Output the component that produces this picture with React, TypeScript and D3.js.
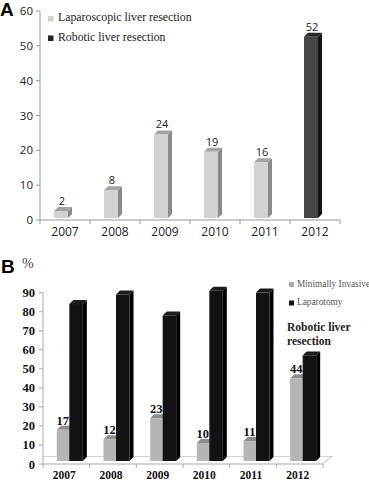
import { scaleBand, scaleLinear } from "d3";

// panel A
const yearsA = ["2007", "2008", "2009", "2010", "2011", "2012"];
const casesA = [2, 8, 24, 19, 16, 52];
const robotA = [false, false, false, false, false, true];
const legendA = ["Laparoscopic liver resection", "Robotic liver resection"];

// panel B
const yearsB = ["2007", "2008", "2009", "2010", "2011", "2012"];
const minInvasive = [17, 12, 23, 10, 11, 44];
const laparotomy = [83, 88, 77, 90, 89, 56];
const legendB = ["Minimally Invasive", "Laparotomy"];

const sans = "'Open Sans', 'DejaVu Sans', sans-serif";
const serif = "'Liberation Serif', 'DejaVu Serif', serif";

// simple extruded bar: front rect + top + right side
const Bar3D = ({ x, w, top, bottom, d, front, side, cap }) => (
  <g>
    <polygon points={`${x},${top} ${x + d},${top - d} ${x + w + d},${top - d} ${x + w},${top}`} fill={cap} />
    <polygon points={`${x + w},${top} ${x + w + d},${top - d} ${x + w + d},${bottom - d} ${x + w},${bottom}`} fill={side} />
    <rect x={x} y={top} width={w} height={bottom - top} fill={front} />
  </g>
);

const PanelA = () => {
  const x = scaleBand().domain(yearsA).range([40, 340]);
  const y = scaleLinear().domain([0, 60]).range([220, 11]);
  const bw = x.bandwidth();
  return (
    <g>
      <text x={0} y={16} fontFamily="'Liberation Sans', Arial, sans-serif" fontWeight="bold" fontSize={19}>A</text>
      {/* y axis */}
      <line x1={40} x2={40} y1={y(60)} y2={y(0)} stroke="#999" />
      {y.ticks(6).map((t) => (
        <g key={t}>
          <line x1={36} x2={40} y1={y(t)} y2={y(t)} stroke="#999" />
          <text x={33} y={y(t)} dy="0.36em" textAnchor="end" fontFamily={sans} fontSize={11.5} fill="#222">{t}</text>
        </g>
      ))}
      {/* x axis */}
      <line x1={40} x2={340} y1={y(0)} y2={y(0)} stroke="#999" />
      {[...yearsA.map((c) => x(c)), 340].map((p, i) => (
        <line key={i} x1={p} x2={p} y1={y(0)} y2={y(0) + 4} stroke="#999" />
      ))}
      {yearsA.map((c) => (
        <text key={c} x={x(c) + bw / 2} y={236} textAnchor="middle" fontFamily={sans} fontSize={12} fill="#222">{c}</text>
      ))}
      {yearsA.map((c, i) => {
        const bx = x(c) + bw / 2 - 11;
        const top = y(casesA[i]) - 2;
        const rob = robotA[i];
        return (
          <g key={c}>
            <Bar3D x={bx} w={14} d={4} top={top} bottom={y(0) - 2}
              front={rob ? "#454545" : "#d2d2d2"} side={rob ? "#151515" : "#8a8a8a"} cap={rob ? "#262626" : "#a4a4a4"} />
            <text x={bx + 8} y={top - 6} textAnchor="middle" fontFamily={sans} fontSize={11} fill="#222">{casesA[i]}</text>
          </g>
        );
      })}
      {/* legend */}
      <rect x={48} y={16} width={5.5} height={5.5} fill="#cfcfcf" />
      <text x={58} y={21} fontFamily={serif} fontSize={11.8} fill="#222">{legendA[0]}</text>
      <rect x={48} y={35.5} width={5.5} height={5.5} fill="#222" />
      <text x={58} y={40.5} fontFamily={serif} fontSize={11.8} fill="#222">{legendA[1]}</text>
    </g>
  );
};

const PanelB = () => {
  const x = scaleBand().domain(yearsB).range([43, 323]);
  const y = scaleLinear().domain([0, 90]).range([464, 292.7]);
  const bw = x.bandwidth();
  return (
    <g>
      <text x={1} y={273} fontFamily="'Liberation Sans', Arial, sans-serif" fontWeight="bold" fontSize={19}>B</text>
      <text x={22} y={268} fontFamily={serif} fontSize={14} fill="#444">%</text>
      {/* floor */}
      <line x1={43} x2={332} y1={456.5} y2={456.5} stroke="#d4d4d4" />
      <line x1={322} x2={332} y1={464} y2={456.5} stroke="#bbb" />
      {/* y axis */}
      <line x1={43} x2={43} y1={y(90)} y2={y(0)} stroke="#aaa" />
      {y.ticks(9).map((t) => (
        <g key={t}>
          <line x1={39} x2={43} y1={y(t)} y2={y(t)} stroke="#aaa" />
          <text x={35} y={y(t)} dy="0.36em" textAnchor="end" fontFamily={serif} fontWeight="bold" fontSize={12.5} fill="#111">{t}</text>
        </g>
      ))}
      <line x1={43} x2={322} y1={y(0)} y2={y(0)} stroke="#aaa" />
      {[...yearsB.map((c) => x(c)), 323].map((p, i) => (
        <line key={i} x1={p} x2={p} y1={y(0)} y2={y(0) + 4} stroke="#aaa" />
      ))}
      {yearsB.map((c) => (
        <text key={c} x={x(c) + bw / 2 - 2} y={479} textAnchor="middle" fontFamily={serif} fontWeight="bold" fontSize={11.5} fill="#111">{c}</text>
      ))}
      {yearsB.map((c, i) => {
        const gx = x(c) + bw / 2 - 9.5;
        const gTop = y(minInvasive[i]) - 2;
        const bTop = y(laparotomy[i]) - 2;
        return (
          <g key={c}>
            <Bar3D x={gx} w={12.5} d={4} top={gTop} bottom={y(0) - 3} front="#b5b5b5" side="#777" cap="#8c8c8c" />
            <Bar3D x={gx + 12.5} w={13.5} d={4} top={bTop} bottom={y(0) - 3} front="#121212" side="#000" cap="#1c1c1c" />
            <text x={gx + 6} y={gTop - 5} textAnchor="middle" fontFamily={serif} fontWeight="bold" fontSize={12.5} fill="#111">{minInvasive[i]}</text>
          </g>
        );
      })}
      {/* legend */}
      <rect x={289} y={282} width={5} height={5} fill="#aaa" />
      <text x={297} y={287} fontFamily={serif} fontSize={9.3} fill="#555">{legendB[0]}</text>
      <rect x={289} y={300.5} width={5} height={5} fill="#111" />
      <text x={297} y={305} fontFamily={serif} fontSize={9.3} fill="#555">{legendB[1]}</text>
      <text x={287} y={331} fontFamily={serif} fontWeight="bold" fontSize={11.5} fill="#222">Robotic liver</text>
      <text x={287} y={345} fontFamily={serif} fontWeight="bold" fontSize={11.5} fill="#222">resection</text>
    </g>
  );
};

const App = () => {
  return (
    <svg width={369} height={481} style={{ position: "absolute", left: 0, top: 0, background: "#fff" }}>
      <PanelA />
      <PanelB />
    </svg>
  );
};

export default App;
